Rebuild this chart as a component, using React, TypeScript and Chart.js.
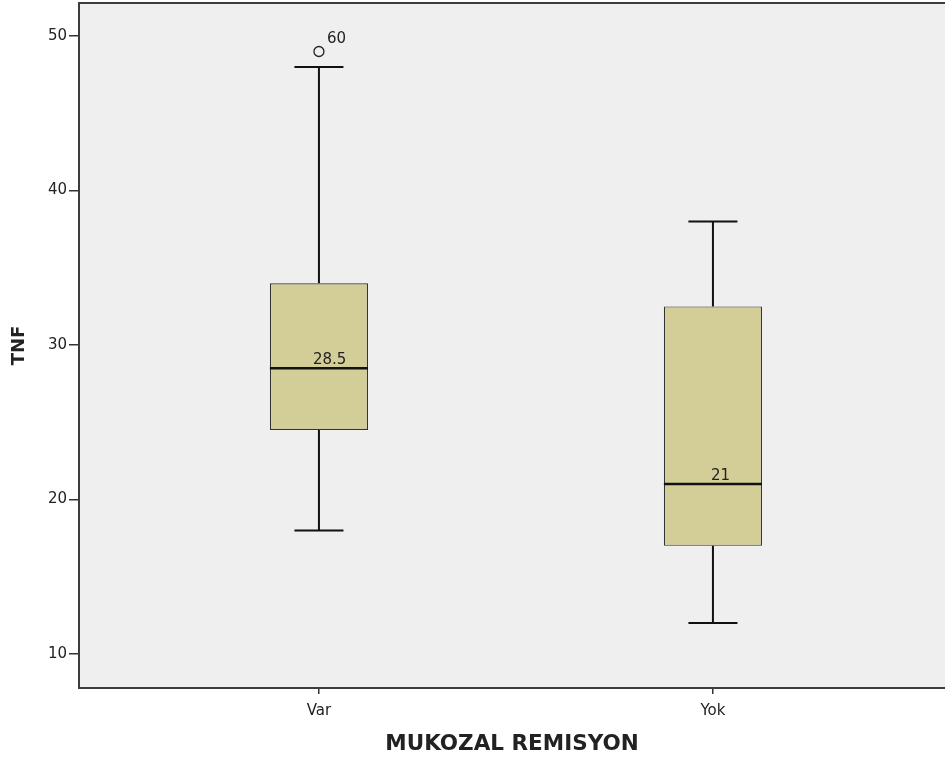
import React, { useEffect, useRef } from "react";
import { Chart, registerables } from "chart.js";

Chart.register(...registerables);

const categories = ["Var", "Yok"];
const whiskerLow = [18, 12];
const q1 = [24.5, 17];
const medians = [28.5, 21];
const q3 = [34, 32.5];
const whiskerHigh = [48, 38];
const outliers = [{ group: 0, value: 49, label: "60" }];
const yTicks = [10, 20, 30, 40, 50];
const medianLabels = ["28.5", "21"];

const BOX_FILL = "#d3ce98";
const PLOT_BG = "#efefef";
const LINE = "#111111";
const FONT = "'DejaVu Sans', sans-serif";

const boxPlotPlugin = {
  id: "boxPlotExtras",
  beforeDraw(chart: any) {
    const { ctx, chartArea } = chart;
    ctx.save();
    ctx.fillStyle = PLOT_BG;
    ctx.fillRect(chartArea.left, chartArea.top, chartArea.right - chartArea.left, chartArea.bottom - chartArea.top);
    ctx.restore();
  },
  beforeDatasetsDraw(chart: any) {
    const { ctx } = chart;
    const xs = chart.scales.x;
    const ys = chart.scales.y;
    const capHalf = 0.0622;
    ctx.save();
    ctx.strokeStyle = LINE;
    ctx.lineWidth = 2;
    categories.forEach((_, i) => {
      const cx = xs.getPixelForValue(i + 1);
      const xl = xs.getPixelForValue(i + 1 - capHalf);
      const xr = xs.getPixelForValue(i + 1 + capHalf);
      ctx.beginPath();
      ctx.moveTo(cx, ys.getPixelForValue(q3[i]));
      ctx.lineTo(cx, ys.getPixelForValue(whiskerHigh[i]));
      ctx.moveTo(cx, ys.getPixelForValue(q1[i]));
      ctx.lineTo(cx, ys.getPixelForValue(whiskerLow[i]));
      ctx.moveTo(xl, ys.getPixelForValue(whiskerHigh[i]));
      ctx.lineTo(xr, ys.getPixelForValue(whiskerHigh[i]));
      ctx.moveTo(xl, ys.getPixelForValue(whiskerLow[i]));
      ctx.lineTo(xr, ys.getPixelForValue(whiskerLow[i]));
      ctx.stroke();
    });
    ctx.restore();
  },
  afterDatasetsDraw(chart: any) {
    const { ctx, chartArea } = chart;
    const xs = chart.scales.x;
    const ys = chart.scales.y;
    const boxHalf = 0.1245;
    ctx.save();
    ctx.strokeStyle = LINE;
    ctx.lineWidth = 2.5;
    categories.forEach((_, i) => {
      const xl = xs.getPixelForValue(i + 1 - boxHalf);
      const xr = xs.getPixelForValue(i + 1 + boxHalf);
      const y = ys.getPixelForValue(medians[i]);
      ctx.beginPath();
      ctx.moveTo(xl, y);
      ctx.lineTo(xr, y);
      ctx.stroke();
    });
    ctx.fillStyle = "#222";
    ctx.font = "15px " + FONT;
    ctx.textAlign = "left";
    ctx.textBaseline = "alphabetic";
    categories.forEach((_, i) => {
      const cx = xs.getPixelForValue(i + 1);
      const y = ys.getPixelForValue(medians[i]);
      ctx.fillText(medianLabels[i], cx + (i === 0 ? -6 : -2), y - 4);
    });
    outliers.forEach((o) => {
      const cx = xs.getPixelForValue(o.group + 1);
      const y = ys.getPixelForValue(o.value);
      ctx.fillText(o.label, cx + 8, y - 9);
    });
    ctx.strokeStyle = "#3c3c3c";
    ctx.lineWidth = 2;
    ctx.beginPath();
    ctx.moveTo(chartArea.left, chartArea.top);
    ctx.lineTo(chartArea.right, chartArea.top);
    ctx.stroke();
    ctx.restore();
  },
};

export default function App() {
  const ref = useRef<HTMLCanvasElement>(null);
  useEffect(() => {
    if (!ref.current) return;
    const chart = new Chart(ref.current, {
      type: "bar",
      data: {
        datasets: [
          {
            type: "bar",
            label: "box",
            data: categories.map((_, i) => ({ x: i + 1, y: [q1[i], q3[i]] })) as any,
            backgroundColor: BOX_FILL,
            borderColor: "#333333",
            borderWidth: 1.2,
            borderSkipped: false,
            categoryPercentage: 1,
            barPercentage: 0.249,
          },
          {
            type: "scatter",
            label: "outliers",
            data: outliers.map((o) => ({ x: o.group + 1, y: o.value })),
            pointStyle: "circle",
            pointRadius: 5,
            backgroundColor: "rgba(0,0,0,0)",
            borderColor: "#222",
            borderWidth: 1.3,
          } as any,
        ],
      },
      options: {
        animation: false,
        responsive: true,
        maintainAspectRatio: false,
        layout: { autoPadding: false, padding: { top: 3, right: 0, left: 0, bottom: 0 } },
        plugins: { legend: { display: false }, tooltip: { enabled: false } },
        scales: {
          x: {
            type: "linear",
            offset: false,
            min: 0.391,
            max: 2.589,
            afterFit: (s: any) => {
              s.height = 75;
              s.paddingLeft = 0;
              s.paddingRight = 0;
            },
            afterBuildTicks: (s: any) => {
              s.ticks = categories.map((_, i) => ({ value: i + 1 }));
            },
            ticks: {
              callback: (v: any) => categories[Number(v) - 1] ?? "",
              color: "#222",
              font: { family: FONT, size: 15 },
              padding: 8,
              autoSkip: false,
              maxRotation: 0,
            },
            grid: { display: true, offset: false, drawOnChartArea: false, tickLength: 6, color: "#333", lineWidth: 1.5 },
            border: { display: true, color: "#3c3c3c", width: 2 },
            title: {
              display: true,
              text: "MUKOZAL REMISYON",
              color: "#222",
              font: { family: FONT, size: 21.5, weight: "bold" },
              padding: { top: 0, bottom: 6 },
            },
          },
          y: {
            type: "linear",
            min: 7.8,
            max: 52.14,
            afterFit: (s: any) => {
              s.width = 79;
              s.paddingTop = 0;
              s.paddingBottom = 0;
            },
            afterBuildTicks: (s: any) => {
              s.ticks = yTicks.map((v) => ({ value: v }));
            },
            ticks: {
              color: "#222",
              font: { family: FONT, size: 15 },
              padding: 2,
            },
            grid: { display: true, drawOnChartArea: false, tickLength: 10, color: "#333", lineWidth: 1.5 },
            border: { display: true, color: "#3c3c3c", width: 2 },
            title: {
              display: true,
              text: "TNF",
              color: "#222",
              font: { family: FONT, size: 18, weight: "bold" },
              padding: { top: 9, bottom: 0 },
            },
          },
        },
      },
      plugins: [boxPlotPlugin],
    } as any);
    return () => chart.destroy();
  }, []);
  return (
    <div style={{ position: "fixed", left: 0, top: 0, width: 945, height: 763, background: "#fff" }}>
      <canvas ref={ref} />
    </div>
  );
}
